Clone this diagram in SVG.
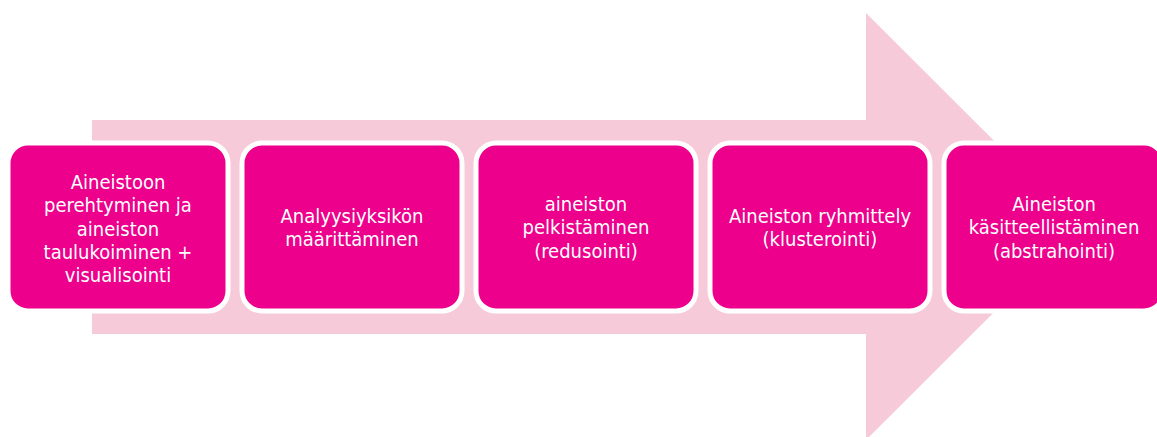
<svg xmlns="http://www.w3.org/2000/svg" width="1157" height="437" viewBox="0 0 1157 437">
<style>
.box{fill:#EC008C;stroke:#FFFFFF;stroke-width:5}
.lbl{fill:#FFFFFF;font-family:"DejaVu Sans Condensed","DejaVu Sans","Liberation Sans",sans-serif;font-size:20px;text-anchor:middle}
</style>
<rect width="1157" height="437" fill="#FFFFFF"/>
<g id="arrow">
<polygon points="92,120 866,120 866,13 1080,226.5 866,440 866,334 92,334" fill="#F6CAD8"/>
</g>
<g id="connectors"></g>
<g id="node1">
<rect class="box" x="8" y="143" width="220" height="168" rx="20"/>
<text class="lbl" x="118" y="189">Aineistoon</text>
<text class="lbl" x="118" y="212.3">perehtyminen ja</text>
<text class="lbl" x="118" y="235.6">aineiston</text>
<text class="lbl" x="118" y="258.9">taulukoiminen +</text>
<text class="lbl" x="118" y="282.2">visualisointi</text>
</g>
<g id="node2">
<rect class="box" x="242" y="143" width="220" height="168" rx="20"/>
<text class="lbl" x="352" y="222.5">Analyysiyksikön</text>
<text class="lbl" x="352" y="245.8">määrittäminen</text>
</g>
<g id="node3">
<rect class="box" x="476" y="143" width="220" height="168" rx="20"/>
<text class="lbl" x="586" y="211">aineiston</text>
<text class="lbl" x="586" y="234.3">pelkistäminen</text>
<text class="lbl" x="586" y="257.6">(redusointi)</text>
</g>
<g id="node4">
<rect class="box" x="710" y="143" width="220" height="168" rx="20"/>
<text class="lbl" x="820" y="222.5">Aineiston ryhmittely</text>
<text class="lbl" x="820" y="245.8">(klusterointi)</text>
</g>
<g id="node5">
<rect class="box" x="944" y="143" width="220" height="168" rx="20"/>
<text class="lbl" x="1054" y="211">Aineiston</text>
<text class="lbl" x="1054" y="234.3">käsitteellistäminen</text>
<text class="lbl" x="1054" y="257.6">(abstrahointi)</text>
</g>
</svg>
